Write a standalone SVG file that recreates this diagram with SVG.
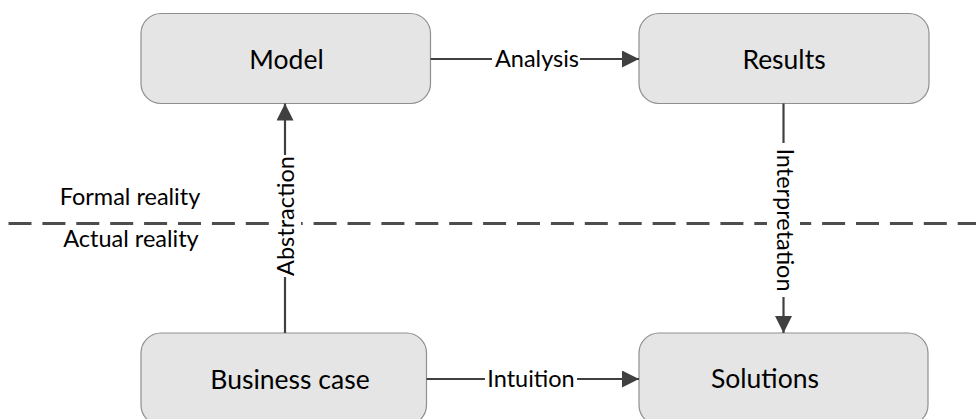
<svg xmlns="http://www.w3.org/2000/svg" width="976" height="419" viewBox="0 0 976 419">
<style>
.node rect{fill:#e5e5e5;stroke:#8f8f8f;stroke-width:1.2}
.ntxt{font-family:Lato,"Open Sans","Liberation Sans",sans-serif;font-size:26.5px;fill:#000;text-anchor:middle}
.ltxt{font-family:Lato,"Open Sans","Liberation Sans",sans-serif;font-size:23.5px;fill:#000;text-anchor:middle}
.edge{stroke:#404040;stroke-width:2.2;fill:none}
.bg{fill:#fff}
</style>
<defs>
<marker id="arr" markerUnits="userSpaceOnUse" markerWidth="18" markerHeight="18" refX="17" refY="8.5" orient="auto">
<path d="M0,0 L17,8.5 L0,17 Z" fill="#404040"/>
</marker>
</defs>
<rect width="976" height="419" fill="#fff"/>
<g id="divider">
<line x1="8.5" y1="223.5" x2="976" y2="223.5" stroke="#4d4d4d" stroke-width="3" stroke-dasharray="23 10.9"/>
<text class="ltxt" x="130" y="205">Formal reality</text>
<text class="ltxt" x="131" y="247">Actual reality</text>
</g>
<g id="node-model" class="node">
<rect x="141" y="13.5" width="289.5" height="90" rx="20"/>
<text class="ntxt" x="286.5" y="68.5">Model</text>
</g>
<g id="node-results" class="node">
<rect x="639" y="13.5" width="290" height="90" rx="20"/>
<text class="ntxt" x="784" y="68.5">Results</text>
</g>
<g id="node-business" class="node">
<rect x="141" y="333" width="285.5" height="92" rx="20"/>
<text class="ntxt" x="290" y="388.5">Business case</text>
</g>
<g id="node-solutions" class="node">
<rect x="639" y="333" width="289" height="92" rx="20"/>
<text class="ntxt" x="765" y="387.5">Solutions</text>
</g>
<g id="connectors">
<line class="edge" x1="430.5" y1="59" x2="639" y2="59" marker-end="url(#arr)"/>
<rect class="bg" x="492" y="45" width="88" height="28"/>
<text class="ltxt" x="537" y="67">Analysis</text>
<line class="edge" x1="426.5" y1="379" x2="639" y2="379" marker-end="url(#arr)"/>
<rect class="bg" x="485" y="365" width="92" height="28"/>
<text class="ltxt" x="531" y="387">Intuition</text>
<line class="edge" x1="285" y1="333" x2="285" y2="103.5" marker-end="url(#arr)"/>
<rect class="bg" x="269" y="155" width="32" height="122"/>
<text class="ltxt" transform="translate(293.5,216) rotate(-90)">Abstraction</text>
<line class="edge" x1="783.5" y1="103.5" x2="783.5" y2="333" marker-end="url(#arr)"/>
<rect class="bg" x="767" y="143" width="33" height="154"/>
<text class="ltxt" transform="translate(776.5,220) rotate(90)">Interpretation</text>
</g>
</svg>
